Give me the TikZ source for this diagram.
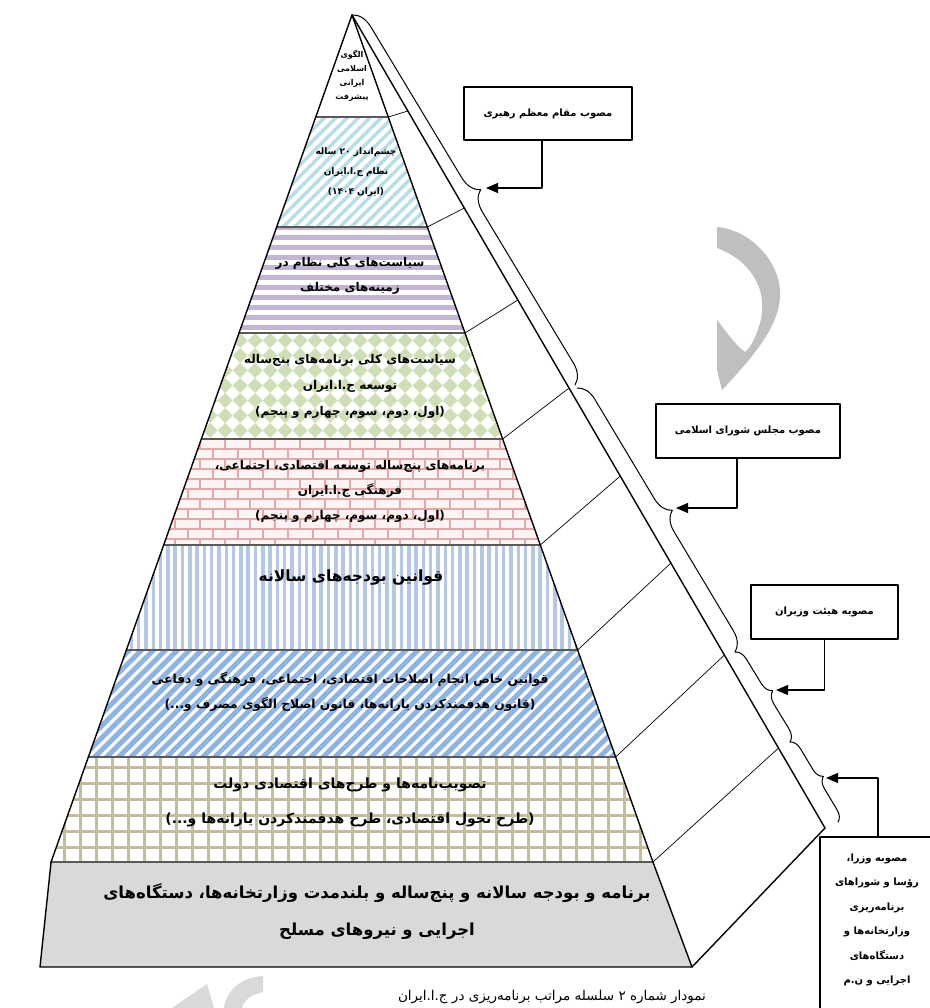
\documentclass[tikz,border=0pt]{standalone}
\usepackage{fontspec}
\newfontfamily\farsi[Script=Arabic]{DejaVu Sans}
\TeXXeTstate=1
\usetikzlibrary{patterns.meta,decorations.pathreplacing,arrows.meta}
\newcommand{\fa}[1]{\beginR#1\endR}
\definecolor{skyline}{RGB}{183,221,232}
\definecolor{lilac}{RGB}{195,181,214}
\definecolor{sage}{RGB}{207,223,181}
\definecolor{brickred}{RGB}{228,168,168}
\definecolor{brickface}{RGB}{252,243,243}
\definecolor{paleblue}{RGB}{180,199,231}
\definecolor{midblue}{RGB}{141,179,226}
\definecolor{khaki}{RGB}{196,189,151}
\definecolor{basegray}{RGB}{217,217,217}
\tikzset{
  layer/.style={draw=black!65, line width=1.6pt},
  rim/.style={draw=black, line width=1.4pt},
  tick/.style={draw=black, line width=0.7pt},
  lbl/.style={align=center, inner sep=0pt},
  tag/.style={draw=black, line width=1.5pt, fill=white, align=center, inner sep=0pt, font=\farsi\bfseries\fontsize{10}{24}\selectfont},
  curly/.style={decorate, decoration={brace, amplitude=#1}, line width=1pt},
  feed/.style={-{Triangle[length=12pt,width=10pt]}, line width=1.3pt},
}
\begin{document}
\begin{tikzpicture}[x=1pt, y=-1pt, line join=round, line cap=round]
\useasboundingbox (0,0) rectangle (929,1008);

% corners of the front face and of the side face
\coordinate (apex) at (352,15);
\coordinate (back) at (825,828);
\coordinate (bl) at (40,967);
\coordinate (br) at (692,967);
\foreach \y/\yb [count=\i] in {117/111, 227/208, 333/300, 439/388, 545/476, 650/563, 757/655, 862/748} {
  \coordinate (l\i) at ({352-0.3553*(\y-15)},\y);
  \coordinate (r\i) at ({352+0.3553*(\y-15)},\y);
  \coordinate (b\i) at ({352+0.582*(\yb-15)},\yb);
}

% layers
\fill[white] (apex) -- (r1) -- (l1) -- cycle;
\fill[white, postaction={pattern={Lines[angle=45,distance=8pt,line width=3.5pt]}, pattern color=skyline}] (l1) -- (r1) -- (r2) -- (l2) -- cycle;
\fill[white, postaction={pattern={Lines[angle=0,distance=10pt,line width=5pt]}, pattern color=lilac}] (l2) -- (r2) -- (r3) -- (l3) -- cycle;
\begin{scope}
  \clip (l3) -- (r3) -- (r4) -- (l4) -- cycle;
  \fill[white] (200,333) rectangle (520,439);
  \foreach \m in {14,...,35}
    \foreach \n in {0,...,7}
      \fill[sage] ({15*\m},{333+15*\n}) -- ++(7.5,7.5) -- ++(-7.5,7.5) -- ++(-7.5,-7.5) -- cycle;
\end{scope}
\begin{scope}
  \clip (l4) -- (r4) -- (r5) -- (l5) -- cycle;
  \fill[brickface] (150,439) rectangle (560,545);
  \foreach \n in {0,...,10} {
    \draw[brickred, line width=2pt] (150,{439+10*\n}) -- (560,{439+10*\n});
    \foreach \m in {0,...,17}
      \draw[brickred, line width=2pt] ({150+25*\m+12.5*mod(\n,2)},{439+10*\n}) -- ++(0,10);
  }
\end{scope}
\fill[white, postaction={pattern={Lines[angle=90,distance=7.3pt,line width=3.5pt]}, pattern color=paleblue}] (l5) -- (r5) -- (r6) -- (l6) -- cycle;
\fill[white, postaction={pattern={Lines[angle=45,distance=8.5pt,line width=5pt]}, pattern color=midblue}] (l6) -- (r6) -- (r7) -- (l7) -- cycle;
\fill[white, postaction={pattern={Hatch[angle=0,distance=16pt,line width=3pt]}, pattern color=khaki}] (l7) -- (r7) -- (r8) -- (l8) -- cycle;
\fill[basegray] (l8) -- (r8) -- (br) -- (bl) -- cycle;
\foreach \i in {1,...,8}
  \draw[layer] (l\i) -- (r\i);

% outline and side face
\draw[rim] (l8) -- (apex) -- (r8);
\draw[rim] (l8) -- (bl) -- (br) -- (r8);
\draw[rim] (apex) -- (back) -- (br);
\foreach \i in {1,...,8}
  \draw[tick] (r\i) -- (b\i);

% braces
\draw[curly=20pt] (apex) -- (575,385);
\draw[curly=19pt] (577,388) -- (735,652);
\draw[curly=12pt] (735,652) -- (790,742);
\draw[curly=11pt] (790,742) -- (838,822);
\coordinate (tipA) at (486,188);
\coordinate (tipB) at (676,508);
\coordinate (tipC) at (776,690);
\coordinate (tipD) at (826,778);

% watermark
\fill[gray!50] (717,227) -- (717,248) .. controls (745,258) and (770,285) .. (760,323) .. controls (755,340) and (750,348) .. (745,352) .. controls (735,345) and (725,330) .. (717,320) -- (717,370) -- (722,390) .. controls (760,350) and (782,320) .. (780,290) .. controls (778,260) and (750,230) .. (717,227) -- cycle;
\fill[gray!30] (172,1008) -- (207,984) -- (214,1008) -- cycle;
\fill[gray!30] (224,1008) .. controls (226,990) and (242,977) .. (263,976) -- (263,992) .. controls (252,994) and (244,1000) .. (242,1008) -- cycle;

% boxes
\node[tag, minimum width=168pt, minimum height=53pt] (leader) at (548,113.5) {\fa{مصوب مقام معظم رهبری}};
\node[tag, minimum width=184pt, minimum height=54pt] (majlis) at (748,431) {\fa{مصوب مجلس شورای اسلامی}};
\node[tag, minimum width=147pt, minimum height=54pt] (cabinet) at (824.5,612) {\fa{مصوبه هیئت وزیران}};
\node[tag, minimum width=116pt, minimum height=184pt, anchor=north] (ministers) at (878,836) {};
\node[lbl, font=\farsi\bfseries\fontsize{10}{24.5}\selectfont] (ministerstext) at (877,920) {\fa{مصوبه وزرا،}\\\fa{رؤسا و شوراهای}\\\fa{برنامه^^^^200cریزی}\\\fa{وزارتخانه^^^^200cها و}\\\fa{دستگاه^^^^200cهای}\\\fa{اجرایی و ن.م}};
\draw[feed] ([xshift=-6pt]leader.south) |- (tipA);
\draw[feed] ([xshift=-11pt]majlis.south) |- (tipB);
\draw[feed] (cabinet.south) |- (tipC);
\draw[feed] (ministers.north) |- (tipD);

% layer texts
\node[lbl, font=\farsi\bfseries\fontsize{8}{14}\selectfont] (model) at (352,76) {\fa{الگوی}\\\fa{اسلامی}\\\fa{ایرانی}\\\fa{پیشرفت}};
\node[lbl, font=\farsi\bfseries\fontsize{9}{20}\selectfont] (vision) at (356,172) {\fa{چشم^^^^200cانداز ۲۰ ساله}\\\fa{نظام ج.ا.ایران}\\\fa{(ایران ۱۴۰۴)}};
\node[lbl, font=\farsi\bfseries\fontsize{12}{25}\selectfont] (policy) at (350,275.5) {\fa{سیاست^^^^200cهای کلی نظام در}\\\fa{زمینه^^^^200cهای مختلف}};
\node[lbl, font=\farsi\bfseries\fontsize{12}{26}\selectfont] (planpolicy) at (350,386) {\fa{سیاست^^^^200cهای کلی برنامه^^^^200cهای پنج^^^^200cساله}\\\fa{توسعه ج.ا.ایران}\\\fa{(اول، دوم، سوم، چهارم و پنجم)}};
\node[lbl, font=\farsi\bfseries\fontsize{12}{25}\selectfont] (devplan) at (350,491) {\fa{برنامه^^^^200cهای پنج^^^^200cساله توسعه اقتصادی، اجتماعی،}\\\fa{فرهنگی ج.ا.ایران}\\\fa{(اول، دوم، سوم، چهارم و پنجم)}};
\node[lbl, font=\farsi\bfseries\fontsize{15.5}{20}\selectfont] (budget) at (351,577) {\fa{قوانین بودجه^^^^200cهای سالانه}};
\node[lbl, font=\farsi\bfseries\fontsize{12.3}{25}\selectfont] (speciallaw) at (350,692) {\fa{قوانین خاص انجام اصلاحات اقتصادی، اجتماعی، فرهنگی و دفاعی}\\\fa{(قانون هدفمندکردن یارانه^^^^200cها، قانون اصلاح الگوی مصرف و...)}};
\node[lbl, font=\farsi\bfseries\fontsize{14}{35}\selectfont] (decree) at (350,802) {\fa{تصویب^^^^200cنامه^^^^200cها و طرح^^^^200cهای اقتصادی دولت}\\\fa{(طرح تحول اقتصادی، طرح هدفمندکردن یارانه^^^^200cها و...)}};
\node[lbl, font=\farsi\bfseries\fontsize{16.5}{37}\selectfont] (execplan) at (377,911) {\fa{برنامه و بودجه سالانه و پنج^^^^200cساله و بلندمدت وزارتخانه^^^^200cها، دستگاه^^^^200cهای}\\\fa{اجرایی و نیروهای مسلح}};

% caption
\node[lbl, anchor=base, font=\farsi\fontsize{13.5}{16}\selectfont] (caption) at (552,1000) {\fa{نمودار شماره ۲ سلسله مراتب برنامه^^^^200cریزی در ج.ا.ایران}};
\end{tikzpicture}
\end{document}
